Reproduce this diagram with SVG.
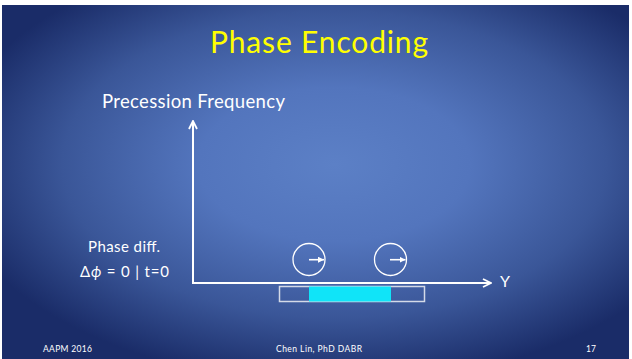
<svg xmlns="http://www.w3.org/2000/svg" width="632" height="359" viewBox="0 0 632 359">
  <defs>
    <radialGradient id="bg" cx="0.53" cy="0.45" r="0.62" fx="0.53" fy="0.45">
      <stop offset="0" stop-color="#5c80c6"/>
      <stop offset="0.35" stop-color="#5375bd"/>
      <stop offset="0.7" stop-color="#3a5698"/>
      <stop offset="1" stop-color="#1a2c68"/>
    </radialGradient>
    <marker id="open" viewBox="0 0 10 10" refX="9" refY="5" markerWidth="10" markerHeight="10" markerUnits="userSpaceOnUse" orient="auto">
      <path d="M1,1 L9,5 L1,9" fill="none" stroke="#ffffff" stroke-width="1.8" stroke-linejoin="miter"/>
    </marker>
    <marker id="tri" viewBox="0 0 10 10" refX="10" refY="5" markerWidth="6" markerHeight="6" markerUnits="userSpaceOnUse" orient="auto">
      <path d="M0,0 L10,5 L0,10 Z" fill="#ffffff"/>
    </marker>
    <style>
      .t { font-family: Lato, "Open Sans", "Liberation Sans", sans-serif; fill: #ffffff; }
      .title { font-size: 30px; fill: #ffff00; }
      .ax { stroke: #ffffff; stroke-width: 2; fill: none; }
      .spin { stroke: #ffffff; stroke-width: 1.3; fill: none; }
      .vec { stroke: #ffffff; stroke-width: 1.6; fill: none; }
      .foot { font-size: 8.5px; }
    </style>
  </defs>
  <rect x="0" y="0" width="632" height="359" fill="#ffffff"/>
  <rect x="2" y="5" width="627" height="354" fill="url(#bg)"/>

  <text class="t title" x="319" y="53" text-anchor="middle" textLength="218">Phase Encoding</text>

  <g id="yaxis-label"><text class="t" x="102" y="108" font-size="18.5" textLength="183">Precession Frequency</text></g>

  <g id="connectors">
    <line class="ax" x1="193" y1="284" x2="193" y2="121" marker-end="url(#open)"/>
    <line class="ax" x1="192" y1="283" x2="491" y2="283" marker-end="url(#open)"/>
  </g>

  <g id="xaxis-label"><text class="t" x="500" y="286.5" font-size="16">Y</text></g>

  <g id="phase-label">
    <text class="t" x="124" y="252" font-size="15" text-anchor="middle" textLength="72">Phase diff.</text>
    <text class="t" x="124.5" y="277" font-size="15" text-anchor="middle" textLength="89">Δ<tspan font-style="italic">ϕ</tspan> = 0 | t=0</text>
  </g>

  <g id="spin1">
    <circle class="spin" cx="309" cy="259.5" r="16"/>
    <line class="vec" x1="309" y1="259.7" x2="324" y2="259.7" marker-end="url(#tri)"/>
  </g>
  <g id="spin2">
    <circle class="spin" cx="390.5" cy="259.5" r="16"/>
    <line class="vec" x1="390" y1="259.7" x2="405.5" y2="259.7" marker-end="url(#tri)"/>
  </g>

  <g id="object">
    <rect x="279.5" y="286.5" width="145" height="15" fill="none" stroke="#d4dae8" stroke-width="1.5"/>
    <rect x="309" y="286.5" width="82" height="15" fill="#10e4f8"/>
  </g>

  <g id="footer">
    <text class="t foot" x="43" y="352" textLength="49">AAPM 2016</text>
    <text class="t foot" x="319" y="352" text-anchor="middle" textLength="86">Chen Lin, PhD DABR</text>
    <text class="t foot" x="586" y="352" textLength="10">17</text>
  </g>
</svg>
